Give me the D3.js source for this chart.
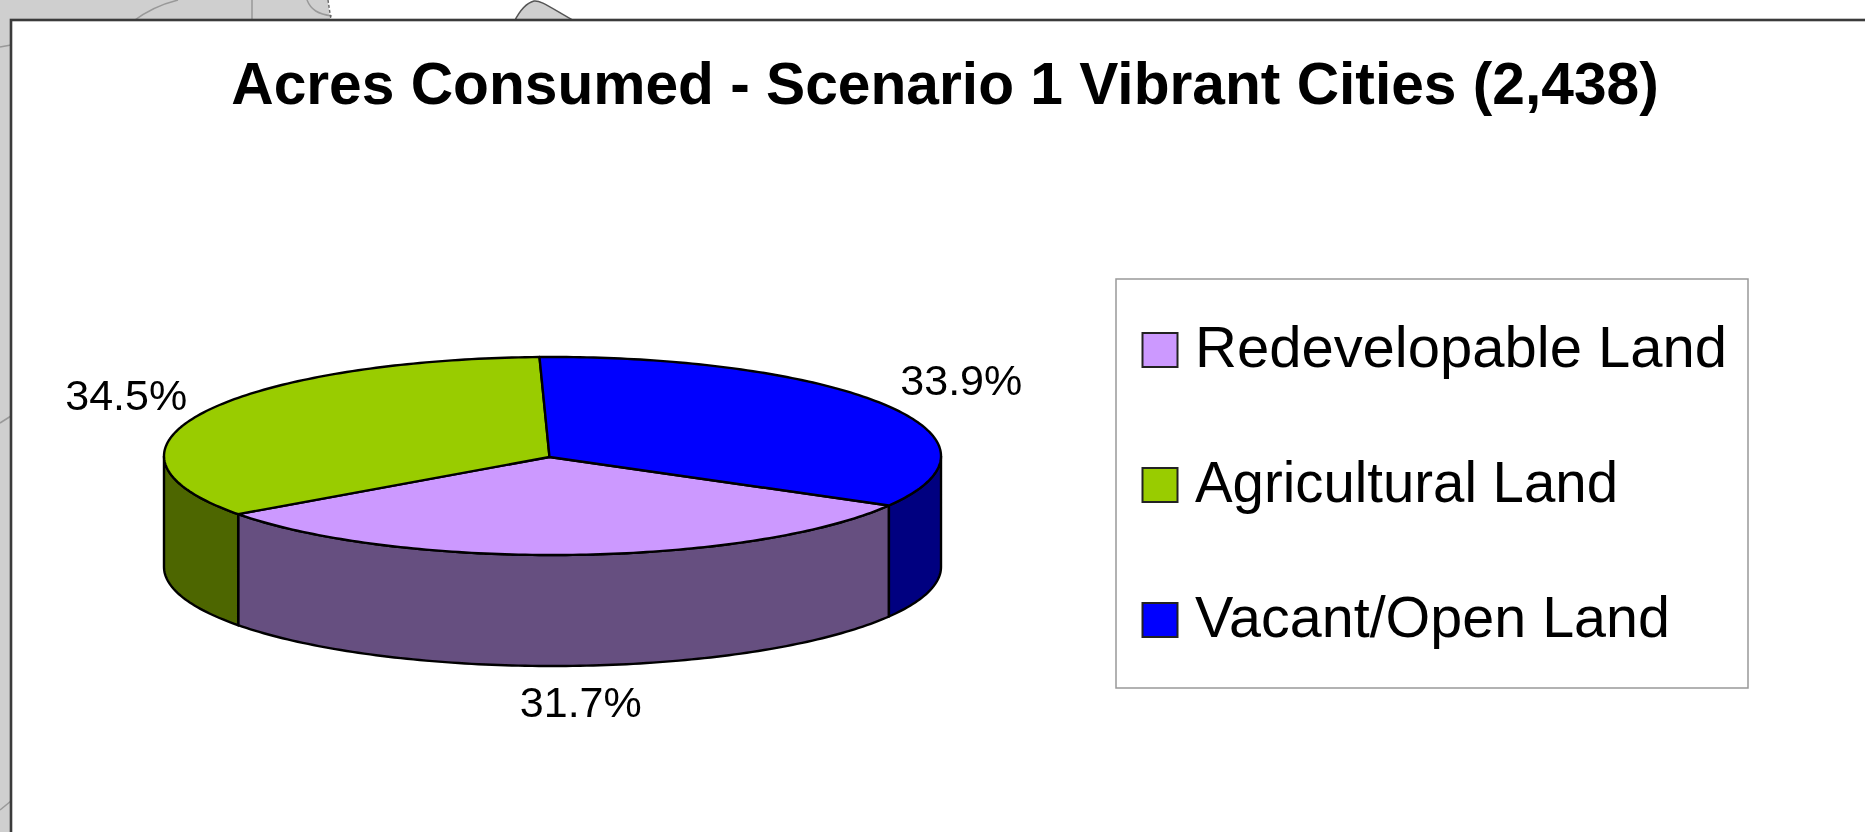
<!DOCTYPE html>
<html>
<head>
<meta charset="utf-8">
<script src="https://cdn.jsdelivr.net/npm/d3@7"></script>
<style>
  html, body { margin: 0; padding: 0; background: #fff; overflow: hidden; }
  text { font-family: "Liberation Sans", Arial, sans-serif; fill: #000; }
</style>
</head>
<body>
<div id="chart"></div>
<script>
// chart values
const chartTitle = "Acres Consumed - Scenario 1 Vibrant Cities (2,438)";
const categories = ["Redevelopable Land", "Agricultural Land", "Vacant/Open Land"];
const shares = [31.7, 34.5, 33.9];
const topColors = ["#cc99ff", "#99cc00", "#0000ff"];
const sideColors = ["#664f80", "#4d6600", "#000080"];

const width = 1865, height = 832;

const svg = d3.select("#chart")
  .append("svg")
  .attr("width", width)
  .attr("height", height);

// the source image is a soft screenshot
svg.append("filter").attr("id", "soft")
  .append("feGaussianBlur").attr("stdDeviation", 0.6);

const root = svg.append("g").attr("filter", "url(#soft)");

// scrap of the map that sits behind the chart frame
const mapFill = root.append("g");
mapFill.append("path")
  .attr("d", "M0,0 L328,0 L331,28 L12,28 L12,832 L0,832 Z")
  .attr("fill", "#cfcfcf");
mapFill.append("path")
  .attr("d", "M514,22 C520,10 526,3 534,1 C540,0 548,6 576,22 Z")
  .attr("fill", "#cfcfcf")
  .attr("stroke", "#555")
  .attr("stroke-width", 1.5);
[
  "M132,22 C145,12 158,5 178,0",
  "M252,0 L252,22",
  "M307,0 C311,10 318,14 332,16",
  "M0,47 L11,45",
  "M0,423 L11,416",
  "M0,810 L11,801"
].forEach(d => {
  mapFill.append("path").attr("d", d).attr("fill", "none")
    .attr("stroke", "#999").attr("stroke-width", 1.5);
});
mapFill.append("path")
  .attr("d", "M328,0 L331,20")
  .attr("fill", "none").attr("stroke", "#666").attr("stroke-width", 1.4)
  .attr("stroke-dasharray", "3 2");

// chart frame, runs off the right and bottom of the shot
root.append("rect")
  .attr("x", 11).attr("y", 20)
  .attr("width", width + 20).attr("height", height + 20)
  .attr("fill", "#fff")
  .attr("stroke", "#3a3a3a")
  .attr("stroke-width", 2.6);

root.append("text")
  .attr("x", 945)
  .attr("y", 104)
  .attr("text-anchor", "middle")
  .attr("font-size", 58.7)
  .attr("font-weight", "bold")
  .text(chartTitle);

// Pie: unit circle mapped on to an ellipse, with the wall dropped below it
const x = d3.scaleLinear().domain([-1, 1]).range([164, 941]);
const y = d3.scaleLinear().domain([-1, 1]).range([357, 555]);
const wallDepth = 111;
const deg = Math.PI / 180;

const pie = d3.pie()
  .sort(null)
  .startAngle(120 * deg)
  .endAngle(480 * deg);
const slices = pie(shares);

const ringLine = d3.line()
  .x(a => x(Math.sin(a)))
  .y(a => y(-Math.cos(a)));

function rimAngles(a0, a1) {
  const pts = d3.range(a0, a1, deg);
  pts.push(a1);
  return pts;
}

// Only the part of the rim facing the viewer has a wall (90-270 degrees)
const frontRanges = [[90 * deg, 270 * deg], [450 * deg, 630 * deg]];
const pie3d = root.append("g");

slices.forEach((s, i) => {
  frontRanges.forEach(r => {
    const a0 = Math.max(s.startAngle, r[0]);
    const a1 = Math.min(s.endAngle, r[1]);
    if (a1 <= a0) return;
    const rim = rimAngles(a0, a1);
    const upper = ringLine(rim);
    const lower = rim.slice().reverse()
      .map(a => [x(Math.sin(a)), y(-Math.cos(a)) + wallDepth]);
    pie3d.append("path")
      .attr("d", upper + "L" + lower.map(p => p.join(",")).join("L") + "Z")
      .attr("fill", sideColors[i])
      .attr("stroke", "#000")
      .attr("stroke-width", 2.4);
  });
});

// slices meet a little left of the ellipse centre in the original
const apex = [x(0) - 3, y(0) + 1];
slices.forEach((s, i) => {
  const rim = ringLine(rimAngles(s.startAngle, s.endAngle));
  pie3d.append("path")
    .attr("d", `M${apex[0]},${apex[1]}L` + rim.slice(1) + "Z")
    .attr("fill", topColors[i])
    .attr("stroke", "#000")
    .attr("stroke-width", 2.4)
    .attr("stroke-linejoin", "round");
});

// percentage labels, outside the rim at each slice's middle angle
const labelOffset = [[8, 162], [27.5, 10.5], [19, -1.5]];
slices.forEach((s, i) => {
  const mid = (s.startAngle + s.endAngle) / 2;
  const reach = [1, 1.3, 1.17][i];
  root.append("text")
    .attr("x", x(Math.sin(mid) * reach) + labelOffset[i][0])
    .attr("y", y(-Math.cos(mid) * reach) + labelOffset[i][1])
    .attr("text-anchor", "middle")
    .attr("font-size", 43)
    .text(d3.format(".1f")(shares[i]) + "%");
});

// Legend
const legendY = d3.scalePoint().domain(categories).range([350, 620]);
const legendTextWidth = d3.scaleOrdinal().domain(categories).range([532, 423, 475]);

root.append("rect")
  .attr("x", 1116).attr("y", 279)
  .attr("width", 632).attr("height", 409)
  .attr("fill", "#fff")
  .attr("stroke", "#999")
  .attr("stroke-width", 1.5);

categories.forEach((c, i) => {
  root.append("rect")
    .attr("x", 1142.5).attr("y", legendY(c) - 17)
    .attr("width", 35).attr("height", 34)
    .attr("fill", topColors[i])
    .attr("stroke", "#222")
    .attr("stroke-width", 2);
  root.append("text")
    .attr("x", 1195)
    .attr("y", legendY(c) + 16.5)
    .attr("font-size", 57.5)
    .attr("textLength", legendTextWidth(c))
    .attr("lengthAdjust", "spacingAndGlyphs")
    .text(c);
});
</script>
</body>
</html>
